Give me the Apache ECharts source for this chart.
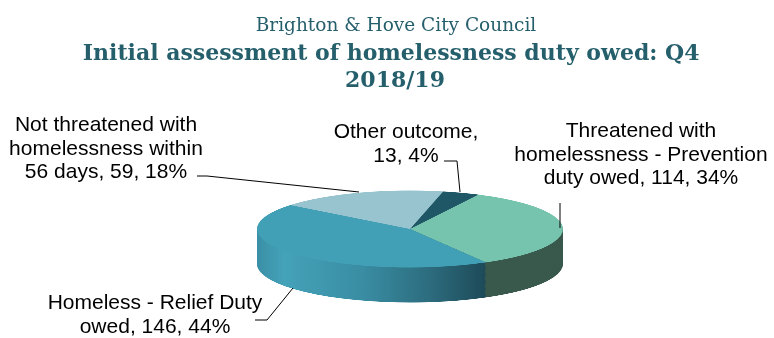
<!DOCTYPE html>
<html>
<head>
<meta charset="utf-8">
<script src="https://cdn.jsdelivr.net/npm/echarts@6/dist/echarts.min.js"></script>
<style>
  html, body { margin: 0; padding: 0; width: 774px; height: 338px; overflow: hidden; background: #ffffff; }
  #solid { position: absolute; left: 0; top: 0; width: 774px; height: 1240px; transform-origin: 0 0; }
  #front { position: absolute; left: 0; top: 0; width: 774px; height: 338px; }
</style>
</head>
<body>
<div id="solid"></div>
<div id="front"></div>
<script>
// Outcome categories and counts (Q4 2018/19)
const categories = [
  'Other outcome',
  'Threatened with homelessness - Prevention duty owed',
  'Homeless - Relief Duty owed',
  'Not threatened with homelessness within 56 days'
];
const values = [13, 114, 146, 59];

const titleMain = 'Brighton & Hove City Council';
const titleSub = 'Initial assessment of homelessness duty owed: Q4 2018/19';

// Slice colours: top face and side wall
const topColors = ['#1f5766', '#77c4ae', '#42a0b6', '#98c4d0'];
const sideColors = [
  '#173f4a',
  '#3a594d',
  { type: 'linear', x: 0, y: 0, x2: 1, y2: 0, colorStops: [
    { offset: 0, color: '#3a90a6' },
    { offset: 0.12, color: '#44a2b9' },
    { offset: 0.45, color: '#3a8ea4' },
    { offset: 0.75, color: '#2d6d7f' },
    { offset: 1, color: '#1d4a58' }
  ] },
  '#6f9aa6'
];

// Disc geometry (screen px)
const CX = 410, CY = 229, RX = 153, RY = 38.5, DEPTH = 35;
const START = 77.5;
const tilt = RY / RX;

// Label anchors, words per text line and leader lines
const labelBoxes = [
  { x: 406, y: 144, words: [2, 2],    line: [[444, 161], [457, 161], [460, 192]] },
  { x: 641, y: 155, words: [2, 3, 4], line: [[560, 203], [560, 203], [560, 228]] },
  { x: 155, y: 315, words: [4, 3],    line: [[255, 320], [267, 320], [293, 288]] },
  { x: 106, y: 149, words: [3, 2, 4], line: [[197, 176], [207, 176], [359, 192]] }
];

function wrapWords(text, counts) {
  const words = text.split(' ');
  const lines = [];
  let k = 0;
  counts.forEach(function (n) {
    lines.push(words.slice(k, k + n).join(' '));
    k += n;
  });
  if (k < words.length) lines.push(words.slice(k).join(' '));
  return lines.join('\n');
}

// ---- tilted disc: flattened with a vertical CSS scale ----
const solidEl = document.getElementById('solid');
solidEl.style.transform = 'scaleY(' + tilt + ')';
const solid = echarts.init(solidEl, null, { renderer: 'canvas' });

function discLayer(offset, colors) {
  return {
    type: 'pie',
    silent: true,
    animation: false,
    startAngle: START,
    clockwise: true,
    radius: [0, RX],
    center: [CX, CY / tilt + offset],
    label: { show: false },
    labelLine: { show: false },
    itemStyle: { borderWidth: 0 },
    emphasis: { disabled: true },
    data: categories.map((name, i) => ({
      name: name,
      value: values[i],
      itemStyle: { color: colors[i] }
    }))
  };
}

const layers = [];
const steps = 40;
const depthU = DEPTH / tilt;
for (let k = steps; k >= 1; k--) {
  layers.push(discLayer(depthU * k / steps, sideColors));
}
layers.push(discLayer(0, topColors));

solid.setOption({ animation: false, series: layers });

// ---- titles and data labels (unscaled) ----
const front = echarts.init(document.getElementById('front'), null, { renderer: 'canvas' });
front.setOption({
  animation: false,
  title: [
    {
      text: titleMain,
      left: 391,
      top: 12,
      textAlign: 'center',
      textStyle: {
        fontFamily: 'DejaVu Serif',
        fontWeight: 'normal',
        fontSize: 18.5,
        color: '#265f6c'
      }
    },
    {
      text: titleSub,
      left: 390,
      top: 36,
      textAlign: 'center',
      textStyle: {
        fontFamily: 'DejaVu Serif',
        fontWeight: 'bold',
        fontSize: 22,
        lineHeight: 27,
        color: '#265f6c',
        width: 645,
        overflow: 'break'
      }
    }
  ],
  series: [{
    type: 'pie',
    silent: true,
    startAngle: START,
    clockwise: true,
    radius: [0, RX],
    center: [CX, CY],
    percentPrecision: 0,
    avoidLabelOverlap: false,
    itemStyle: { color: 'rgba(0,0,0,0)', borderWidth: 0 },
    label: {
      show: true,
      formatter: function (p) {
        const text = p.name + ', ' + p.value + ', ' + p.percent + '%';
        return wrapWords(text, labelBoxes[p.dataIndex].words);
      },
      color: '#000000',
      fontFamily: 'Liberation Sans',
      fontSize: 21,
      lineHeight: 23.5,
      bleedMargin: -600
    },
    labelLine: {
      show: true,
      smooth: false,
      lineStyle: { color: '#000000', width: 1 }
    },
    labelLayout: function (params) {
      const b = labelBoxes[params.dataIndex];
      return {
        x: b.x,
        y: b.y,
        align: 'center',
        verticalAlign: 'middle',
        labelLinePoints: b.line
      };
    },
    data: categories.map((name, i) => ({
      name: name,
      value: values[i]
    }))
  }]
});
</script>
</body>
</html>
